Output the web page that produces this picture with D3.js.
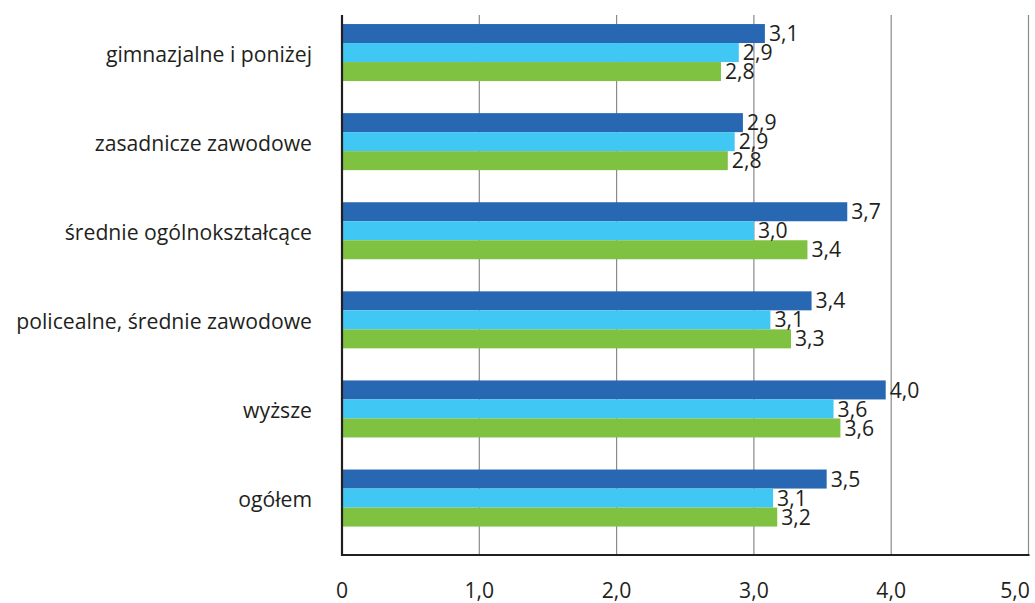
<!DOCTYPE html>
<html lang="pl">
<head>
<meta charset="utf-8">
<title>Wykształcenie</title>
<script src="https://cdn.jsdelivr.net/npm/d3@7/dist/d3.min.js"></script>
<style>
  html, body { margin: 0; padding: 0; background: #ffffff; }
  svg { display: block; }
  text { font-family: "Open Sans", "Noto Sans", sans-serif; fill: #231f20; }
</style>
</head>
<body>
<svg id="chart" width="1035" height="603"></svg>
<script>
// Categories (top to bottom)
const categories = [
  "gimnazjalne i poniżej",
  "zasadnicze zawodowe",
  "średnie ogólnokształcące",
  "policealne, średnie zawodowe",
  "wyższe",
  "ogółem"
];

// Three series per category
const valuesA = [3.08, 2.92, 3.68, 3.42, 3.96, 3.53];
const valuesB = [2.89, 2.86, 3.00, 3.12, 3.58, 3.14];
const valuesC = [2.76, 2.81, 3.39, 3.27, 3.63, 3.17];

const seriesKeys = ["A", "B", "C"];
const seriesValues = [valuesA, valuesB, valuesC];
const seriesColors = ["#2868b2", "#40c7f3", "#7fc241"];

// X axis ticks
const xTicks = [0, 1, 2, 3, 4, 5];

const W = 1035, H = 603;
const FS = 21.2;
const svg = d3.select("#chart");

const plot = { left: 342, right: 1028.5, top: 15, bottom: 555 };

const x = d3.scaleLinear().domain([0, 5]).range([plot.left, plot.right]);

const y = d3.scaleBand()
  .domain(categories)
  .range([8, 8 + 6 * 89.1])
  .paddingInner(0.36)
  .paddingOuter(0.18);

const ySub = d3.scaleBand()
  .domain(seriesKeys)
  .range([0, y.bandwidth()]);

const fmt = v => v === 0 ? "0" : d3.format(".1f")(v).replace(".", ",");

// Vertical gridlines
svg.append("g")
  .selectAll("line")
  .data(xTicks.filter(t => t > 0))
  .join("line")
  .attr("x1", d => x(d)).attr("x2", d => x(d))
  .attr("y1", plot.top).attr("y2", plot.bottom)
  .attr("stroke", "#8a8a8a")
  .attr("stroke-width", 1.2);

// Bars and value labels
const rows = categories.map((c, i) => ({
  category: c,
  items: seriesKeys.map((k, j) => ({ key: k, value: seriesValues[j][i], color: seriesColors[j] }))
}));

const group = svg.append("g")
  .selectAll("g")
  .data(rows)
  .join("g")
  .attr("transform", d => `translate(0,${y(d.category)})`);

group.selectAll("rect")
  .data(d => d.items)
  .join("rect")
  .attr("x", x(0))
  .attr("y", d => ySub(d.key))
  .attr("width", d => x(d.value) - x(0))
  .attr("height", ySub.bandwidth())
  .attr("fill", d => d.color);

group.selectAll("text.val")
  .data(d => d.items)
  .join("text")
  .attr("class", "val")
  .attr("x", d => x(d.value) + 4)
  .attr("y", d => ySub(d.key) + ySub.bandwidth() / 2)
  .attr("dy", "0.36em")
  .attr("font-size", FS)
  .text(d => fmt(d.value));

// Category labels
svg.append("g")
  .selectAll("text")
  .data(categories)
  .join("text")
  .attr("x", 312)
  .attr("y", d => y(d) + y.bandwidth() / 2 + 2)
  .attr("dy", "0.35em")
  .attr("text-anchor", "end")
  .attr("font-size", FS)
  .text(d => d);

// Axis lines
svg.append("line")
  .attr("x1", x(0)).attr("x2", x(0))
  .attr("y1", plot.top).attr("y2", plot.bottom + 1)
  .attr("stroke", "#231f20").attr("stroke-width", 2.2);
svg.append("line")
  .attr("x1", x(0) - 1).attr("x2", plot.right + 1)
  .attr("y1", plot.bottom).attr("y2", plot.bottom)
  .attr("stroke", "#231f20").attr("stroke-width", 2.2);

// X tick labels
svg.append("g")
  .selectAll("text")
  .data(xTicks)
  .join("text")
  .attr("x", d => Math.min(x(d), W - 20))
  .attr("y", 591)
  .attr("dy", "0.35em")
  .attr("text-anchor", "middle")
  .attr("font-size", FS)
  .text(d => fmt(d));
</script>
</body>
</html>
